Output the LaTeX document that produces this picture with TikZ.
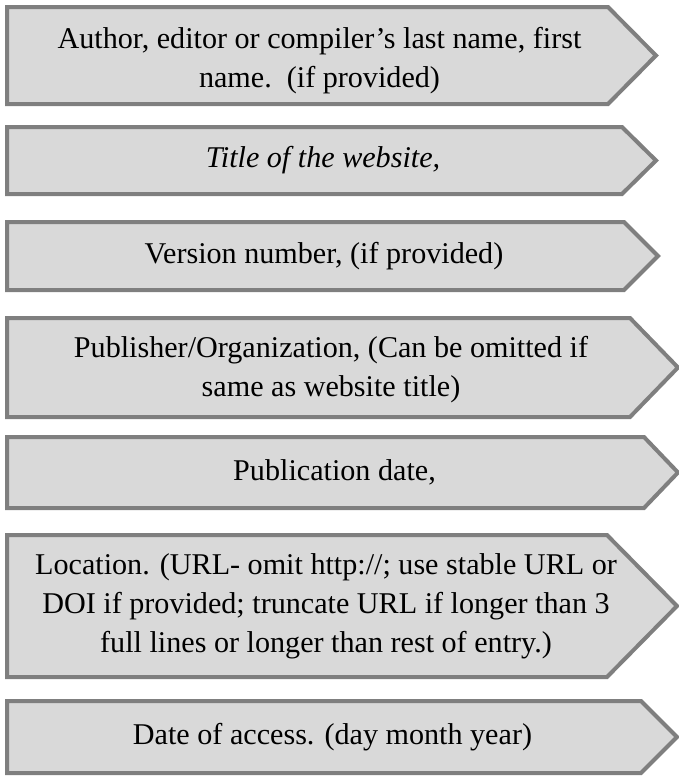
\documentclass[tikz,border=0pt]{standalone}
\usepackage{fontspec}
\setmainfont{Liberation Serif}
\definecolor{boxgray}{RGB}{127,127,127}
\definecolor{boxfill}{RGB}{217,217,217}
\begin{document}
\begin{tikzpicture}[x=0.75pt,y=-0.75pt]

    \tikzstyle{abox} = [draw=boxgray, fill=boxfill, line width=3pt]
    \tikzstyle{tnode} = [align=center, inner sep=0pt, font=\fontsize{22.6}{29.25}\selectfont]

    \useasboundingbox (0,0) rectangle (679,776);

    % the seven pointed boxes
    \draw[abox] (7,7) -- (608,7) -- (656,55.5) -- (608,104) -- (7,104) -- cycle;
    \draw[abox] (7,127) -- (622,127) -- (656,160.5) -- (622,194) -- (7,194) -- cycle;
    \draw[abox] (7,222) -- (624,222) -- (658,256) -- (624,290) -- (7,290) -- cycle;
    \draw[abox] (7,318) -- (630,318) -- (678,367.5) -- (630,417) -- (7,417) -- cycle;
    \draw[abox] (7,437) -- (644,437) -- (678,472.5) -- (644,508) -- (7,508) -- cycle;
    \draw[abox] (7,535) -- (607,535) -- (677,606) -- (607,677) -- (7,677) -- cycle;
    \draw[abox] (7,701) -- (641,701) -- (677,737) -- (641,773) -- (7,773) -- cycle;

    % texts
    \node[tnode] (t1) at (319.5,60.5) {Author, editor or compiler’s last name, first\\ name.\ \ (if provided)};
    \node[tnode] (t2) at (323,160.5) {\itshape Title of the website,};
    \node[tnode] (t3) at (324,256) {Version number, (if provided)};
    \node[tnode] (t4) at (331,369.5) {Publisher/Organization, (Can be omitted if\\ same as website title)};
    \node[tnode] (t5) at (334.5,472.5) {Publication date,};
    \node[tnode] (t6) at (326,606) {Location. (URL- omit http://; use stable URL or\\ DOI if provided; truncate URL if longer than 3\\ full lines or longer than rest of entry.)};
    \node[tnode] (t7) at (332.5,737) {Date of access. (day month year)};

\end{tikzpicture}
\end{document}
